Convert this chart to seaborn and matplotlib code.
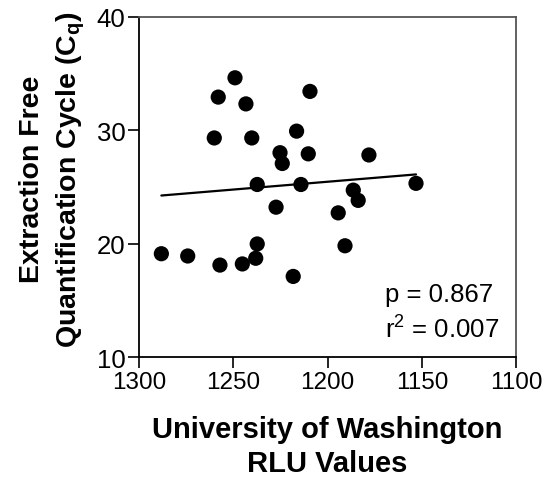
import numpy as np
import pandas as pd
import matplotlib
matplotlib.use("Agg")
import matplotlib.pyplot as plt
import seaborn as sns

rlu = [1249.2, 1258.1, 1243.4, 1209.4, 1260.2, 1240.3, 1216.5, 1225.3, 1224.1,
       1210.3, 1237.4, 1214.2, 1227.4, 1194.4, 1288.3, 1274.3, 1257.2, 1245.3,
       1237.4, 1238.2, 1218.3, 1190.8, 1178.1, 1153.1, 1186.4, 1183.8]
cq = [34.6, 32.9, 32.3, 33.4, 29.3, 29.3, 29.9, 28.0, 27.05,
      27.9, 25.2, 25.2, 23.2, 22.7, 19.1, 18.9, 18.1, 18.2,
      19.96, 18.7, 17.1, 19.8, 27.8, 25.3, 24.7, 23.8]
x_ticks = [1300, 1250, 1200, 1150, 1100]
y_ticks = [10, 20, 30, 40]
stats_text = ["p = 0.867", "r$^2$ = 0.007"]

df = pd.DataFrame({"rlu": rlu, "cq": cq})

sns.set_style("ticks")
plt.rcParams['font.family'] = ['Liberation Sans', 'DejaVu Sans']
plt.rcParams['mathtext.fontset'] = 'custom'
plt.rcParams['mathtext.rm'] = 'Liberation Sans'
plt.rcParams['mathtext.bf'] = 'Liberation Sans:bold'
plt.rcParams['text.color'] = 'black'
plt.rcParams['axes.labelcolor'] = 'black'
plt.rcParams['xtick.color'] = 'black'
plt.rcParams['ytick.color'] = 'black'

fig = plt.figure(figsize=(5.52, 4.81), dpi=100)
ax = fig.add_axes([0.2524, 0.2557, 0.6824, 0.7079])

sns.regplot(data=df, x="rlu", y="cq", ax=ax, ci=None, truncate=True,
            scatter_kws=dict(s=120, color="black", edgecolor="none", alpha=1, zorder=3),
            line_kws=dict(color="black", lw=1.6, zorder=2))

ax.set_xlim(1300, 1100)
ax.set_ylim(10, 40)
ax.set_xticks(x_ticks)
ax.set_yticks(y_ticks)
ax.tick_params(axis='both', direction='out', length=8, width=1.2,
               color='black', labelcolor='black', pad=2)
ax.tick_params(axis='x', labelsize=17.5)
ax.tick_params(axis='y', labelsize=18.5)

for s in ['left', 'bottom']:
    ax.spines[s].set_color('black')
    ax.spines[s].set_linewidth(1.3)
for s in ['top', 'right']:
    ax.spines[s].set_visible(True)
    ax.spines[s].set_color('#555555')
    ax.spines[s].set_linewidth(1.3)

ax.set_xlabel("University of Washington\nRLU Values", fontsize=21, fontweight='bold',
              labelpad=16, linespacing=1.28)
ax.set_ylabel("Extraction Free\nQuantification Cycle (C$_\\mathbf{q}$)", fontsize=20.5,
              fontweight='bold', labelpad=7, linespacing=1.45)
ax.yaxis.label.set_y(0.525)

ax.text(1169.6, 14.9, stats_text[0], fontsize=18.5, ha='left', va='baseline')
ax.text(1169.6, 11.8, stats_text[1], fontsize=18.5, ha='left', va='baseline')

fig.savefig("out.png", dpi=100)
